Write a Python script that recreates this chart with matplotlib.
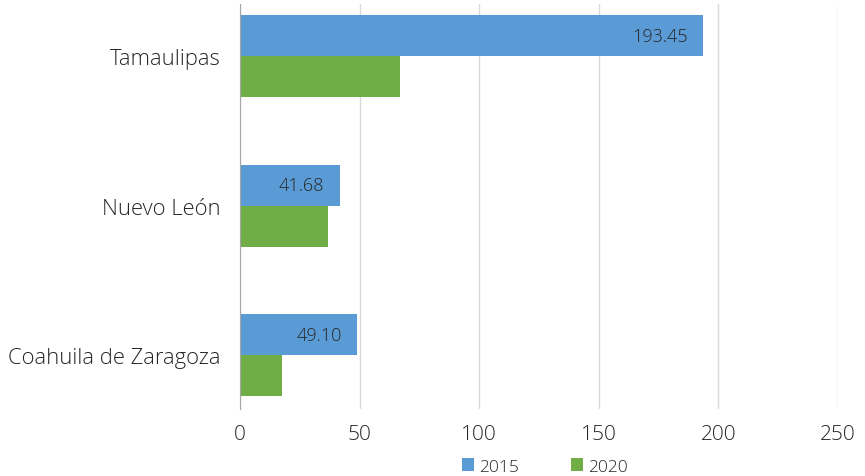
import matplotlib.pyplot as plt
import numpy as np

plt.rcParams['font.family'] = ['Open Sans', 'DejaVu Sans']
plt.rcParams['font.weight'] = 'light'

estados = ['Tamaulipas', 'Nuevo León', 'Coahuila de Zaragoza']
valores_2015 = [193.45, 41.68, 49.10]
valores_2020 = [66.9, 36.6, 17.5]
ticks_x = [0, 50, 100, 150, 200, 250]

azul = '#5B9BD5'
verde = '#70AD47'

fig = plt.figure(figsize=(8.65, 4.77), dpi=100)
ax = fig.add_axes([0.2775, 0.1405, 0.6913, 0.849])

y = np.arange(len(estados))
alto = 0.274
ax.barh(y - alto / 2, valores_2015, height=alto, color=azul, label='2015', zorder=3)
ax.barh(y + alto / 2, valores_2020, height=alto, color=verde, label='2020', zorder=3)

# etiquetas de valor dentro de las barras de 2015
for yi, v in zip(y, valores_2015):
    ax.annotate(f'{v:.2f}', xy=(v, yi - alto / 2), xytext=(-11, 0),
                textcoords='offset points', ha='right', va='center',
                fontsize=13, color='#262626', zorder=4)

ax.set_xlim(0, 250)
ax.set_ylim(len(estados) - 1 + 0.36, -0.35)
ax.set_xticks(ticks_x)
ax.set_yticks(y)
ax.set_yticklabels(estados)
ax.tick_params(axis='both', length=0, colors='#262626')
ax.tick_params(axis='x', pad=11, labelsize=15)
ax.tick_params(axis='y', pad=14, labelsize=15.8)

ax.grid(axis='x', color='#D9D9D9', linewidth=1, zorder=0)
for s in ['top', 'right', 'bottom']:
    ax.spines[s].set_visible(False)
ax.spines['left'].set_color('#A6A6A6')
ax.spines['left'].set_zorder(5)

fig.legend(loc='center', bbox_to_anchor=(0.63, 0.02), ncol=2, frameon=False,
           fontsize=12.5, handlelength=0.7, handleheight=0.7, handletextpad=0.3,
           columnspacing=3.0, labelcolor='#262626')

fig.savefig('out.png', dpi=100)
